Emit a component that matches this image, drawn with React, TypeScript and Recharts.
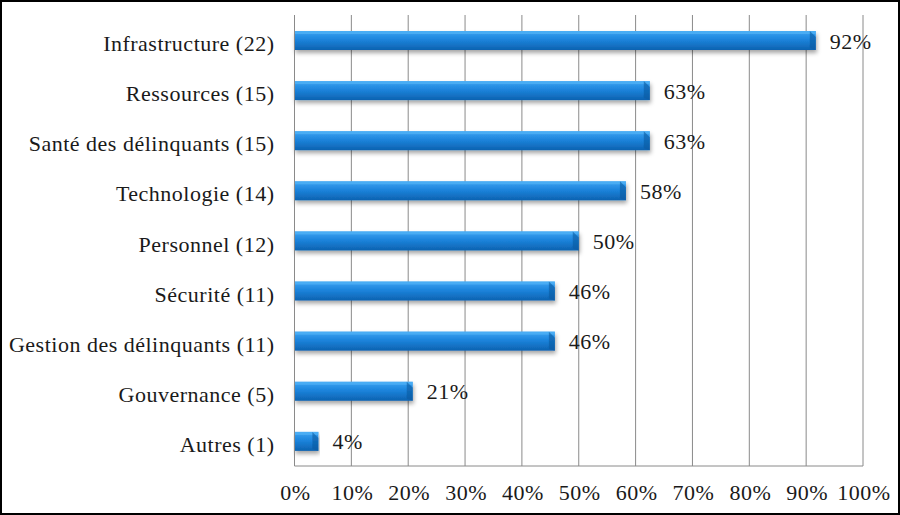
import React from "react";
import {
  BarChart,
  Bar,
  XAxis,
  YAxis,
  CartesianGrid,
  LabelList,
} from "recharts";

const categories = [
  "Infrastructure (22)",
  "Ressources (15)",
  "Santé des délinquants (15)",
  "Technologie (14)",
  "Personnel (12)",
  "Sécurité (11)",
  "Gestion des délinquants (11)",
  "Gouvernance (5)",
  "Autres (1)",
];
const shares = [0.917, 0.625, 0.625, 0.583, 0.5, 0.458, 0.458, 0.208, 0.042];
const valueLabels = ["92%", "63%", "63%", "58%", "50%", "46%", "46%", "21%", "4%"];
const xTicks = [0, 0.1, 0.2, 0.3, 0.4, 0.5, 0.6, 0.7, 0.8, 0.9, 1];

const data = categories.map((name, i) => ({
  name,
  value: shares[i],
  label: valueLabels[i],
}));

const FONT = "'Liberation Serif', serif";
const FS = 22;
const INK = "#1a1a1a";
const textStyle = { fontFamily: FONT, fontSize: FS, fill: INK, letterSpacing: 0.5 };

const BarShape = (props: any) => {
  const { x, y, width, height } = props;
  if (!width || width <= 0) return null;
  const b = Math.min(6, width / 3);
  return (
    <g filter="url(#barShadow)">
      <rect x={x} y={y} width={width} height={height} fill="url(#barFill)" />
      <rect x={x} y={y} width={width} height={3} fill="#4fb0f5" opacity={0.8} />
      <polygon
        points={`${x + width - b},${y} ${x + width},${y + b} ${x + width},${y + height} ${x + width - b},${y + height - 2}`}
        fill="#0b5aa0"
        opacity={0.6}
      />
    </g>
  );
};

const CategoryTick = (props: any) => {
  const { x, y, payload } = props;
  return (
    <text x={x - 12} y={y} dy={11} textAnchor="end" style={textStyle}>
      {payload.value}
    </text>
  );
};

const PercentTick = (props: any) => {
  const { x, y, payload } = props;
  return (
    <text x={x + 1} y={y} dy={26} textAnchor="middle" style={textStyle}>
      {`${Math.round(payload.value * 100)}%`}
    </text>
  );
};

const ValueLabel = (props: any) => {
  const { x, y, width, height, value } = props;
  return (
    <text x={x + width + 14} y={y + height / 2} dy={8} style={textStyle}>
      {value}
    </text>
  );
};

export default function App() {
  return (
    <div style={{ position: "fixed", left: 0, top: 0, width: 900, height: 515, background: "#fff", fontFamily: FONT }}>
      <BarChart
        width={900}
        height={515}
        data={data}
        layout="vertical"
        margin={{ top: 15, right: 37, bottom: 0, left: 0 }}
        barSize={19}
        style={{ fontFamily: FONT }}
      >
        <defs>
          <linearGradient id="barFill" x1="0" y1="0" x2="0" y2="1">
            <stop offset="0%" stopColor="#3da3f2" />
            <stop offset="45%" stopColor="#1c84dc" />
            <stop offset="100%" stopColor="#0d62b0" />
          </linearGradient>
          <filter id="barShadow" x="-5%" y="-30%" width="110%" height="180%">
            <feDropShadow dx="1" dy="3" stdDeviation="2" floodColor="#000" floodOpacity="0.35" />
          </filter>
        </defs>
        <CartesianGrid horizontal={false} stroke="#8a8a8a" />
        <XAxis
          type="number"
          domain={[0, 1]}
          ticks={xTicks}
          height={49}
          axisLine={{ stroke: "#8a8a8a" }}
          tickLine={false}
          tick={<PercentTick />}
          interval={0}
        />
        <YAxis
          type="category"
          dataKey="name"
          width={294.5}
          axisLine={{ stroke: "#8a8a8a" }}
          tickLine={false}
          tick={<CategoryTick />}
          interval={0}
        />
        <Bar dataKey="value" shape={<BarShape />} isAnimationActive={false}>
          <LabelList dataKey="label" content={<ValueLabel />} />
        </Bar>
      </BarChart>
      <div
        style={{
          position: "absolute",
          left: 0,
          top: 0,
          width: 900,
          height: 515,
          boxSizing: "border-box",
          border: "2px solid #000",
          pointerEvents: "none",
        }}
      />
    </div>
  );
}
